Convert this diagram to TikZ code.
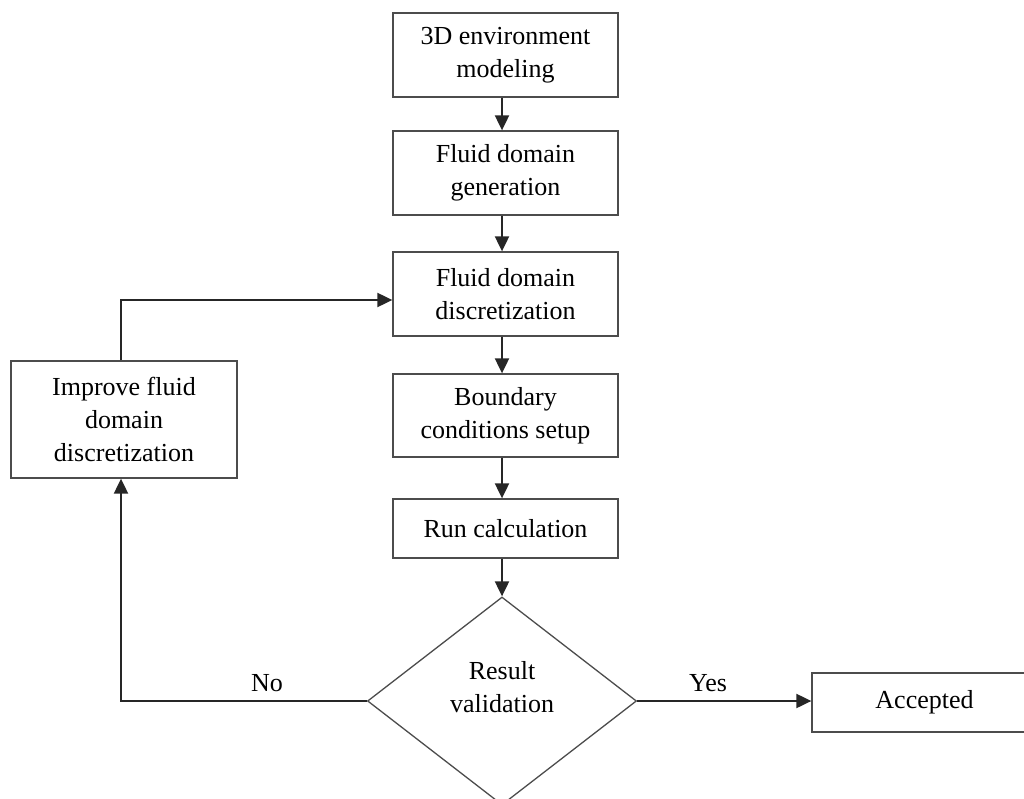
\documentclass[tikz,border=0pt]{standalone}
\usepackage{fontspec}
\setmainfont{Liberation Serif}
\usetikzlibrary{shapes.geometric,arrows.meta}
\begin{document}
\begin{tikzpicture}[x=1pt,y=-1pt,
  every node/.style={font=\fontsize{26}{33}\selectfont, text=black},
  procbox/.style={draw=black!70, line width=1.3pt, rectangle, inner sep=0pt, align=center,
    minimum width=225pt},
  decbox/.style={draw=black!70, line width=1.3pt, diamond, inner sep=0pt, align=center,
    minimum width=269pt, minimum height=208pt},
  flow/.style={draw=black!85, line width=2pt, -{Triangle[length=15pt,width=14pt]}},
  lbl/.style={inner sep=0pt}
]
\useasboundingbox (0,0) rectangle (1024,799);
\begin{scope}
\clip (0,0) rectangle (1024,799);
\node[procbox, minimum height=84pt] (b1) at (505.5,55) {3D environment\\modeling};
\node[procbox, minimum height=84pt] (b2) at (505.5,173) {Fluid domain\\generation};
\node[procbox, minimum height=84pt] (b3) at (505.5,294) {Fluid domain\\discretization};
\node[procbox, minimum height=83pt] (b4) at (505.5,415.5) {Boundary\\conditions setup};
\node[procbox, minimum height=59pt] (b5) at (505.5,528.5) {Run calculation};
\node[decbox, label={[align=center, yshift=14pt, font=\fontsize{26}{33}\selectfont]center:Result\\validation}] (d) at (502,701) {};
\node[procbox, minimum width=226pt, minimum height=117pt] (imp) at (124,419.5) {Improve fluid\\domain\\discretization};
\node[procbox, minimum height=59pt] (acc) at (924.5,702.5) {Accepted};
\coordinate (loopTop) at (121,300);
\coordinate (loopBot) at (121,701);

\draw[flow] (b1.south -| d.north) -- (b2.north -| d.north);
\draw[flow] (b2.south -| d.north) -- (b3.north -| d.north);
\draw[flow] (b3.south -| d.north) -- (b4.north -| d.north);
\draw[flow] (b4.south -| d.north) -- (b5.north -| d.north);
\draw[flow] (b5.south -| d.north) -- (d.north);
\draw[flow] (d.east) -- (acc.west |- d.east);
\draw[flow] (d.west) -- (loopBot) -- (loopBot |- imp.south);
\draw[flow] (loopTop |- imp.north) -- (loopTop) -- (loopTop -| b3.west);
\node[lbl] (no) at (267,683) {No};
\node[lbl] (yes) at (708,683) {Yes};
\end{scope}
\end{tikzpicture}
\end{document}
